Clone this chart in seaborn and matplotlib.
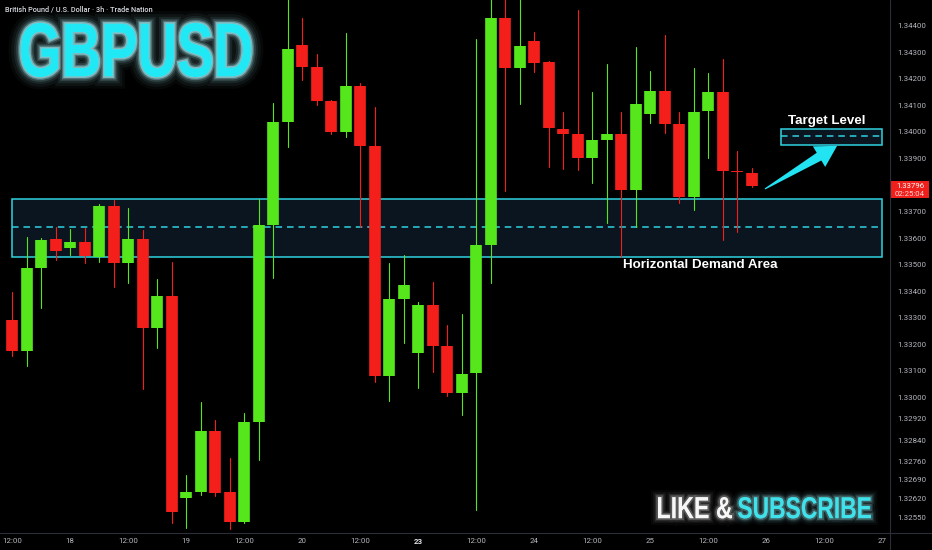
import numpy as np
import pandas as pd
import matplotlib
matplotlib.use("Agg")
import matplotlib.pyplot as plt
import seaborn as sns
from matplotlib.patches import Rectangle, Polygon, PathPatch
from matplotlib.lines import Line2D
from matplotlib.textpath import TextPath
from matplotlib.font_manager import FontProperties
from matplotlib.transforms import Affine2D
import matplotlib.patheffects as pe

# ---------------- data ----------------
candle_idx = list(range(-5, 48))   # 3h candles, 0 = 18th 00:00
opens = [1.32878, 1.33292, 1.33175, 1.33487, 1.33597, 1.33563, 1.33585, 1.33529, 1.33721, 1.33506,
         1.33597, 1.33262, 1.33382, 1.32622, 1.32644, 1.32874, 1.32644, 1.32531, 1.32908, 1.33649,
         1.34037, 1.34327, 1.34244, 1.34116, 1.33999, 1.34172, 1.33947, 1.33081, 1.33371, 1.33167,
         1.33348, 1.33194, 1.33017, 1.33092, 1.33574, 1.34428, 1.34240, 1.34342, 1.34263, 1.34011,
         1.33992, 1.33901, 1.33969, 1.33992, 1.33781, 1.34067, 1.34154, 1.34029, 1.33755, 1.34078,
         1.34150, 1.33852, 1.33845]
highs = [1.33299, 1.33397, 1.33604, 1.33600, 1.33642, 1.33634, 1.33638, 1.33728, 1.33743, 1.33713,
         1.33630, 1.33446, 1.33510, 1.32708, 1.32983, 1.32915, 1.32772, 1.32942, 1.33747, 1.34108,
         1.34504, 1.34428, 1.34293, 1.34120, 1.34372, 1.34184, 1.34093, 1.33506, 1.33536, 1.33359,
         1.33435, 1.33273, 1.33314, 1.34349, 1.34507, 1.34505, 1.34505, 1.34376, 1.34266, 1.34075,
         1.34458, 1.34150, 1.34255, 1.34075, 1.34319, 1.34229, 1.34364, 1.34075, 1.34240, 1.34221,
         1.34274, 1.33928, 1.33864]
lows = [1.32870, 1.33156, 1.33119, 1.33337, 1.33517, 1.33536, 1.33506, 1.33510, 1.33416, 1.33431,
        1.33032, 1.33186, 1.32528, 1.32509, 1.32633, 1.32629, 1.32505, 1.32528, 1.32765, 1.33450,
        1.33943, 1.34195, 1.34101, 1.33992, 1.33980, 1.33642, 1.33058, 1.32987, 1.33205, 1.33036,
        1.33096, 1.33006, 1.32934, 1.32577, 1.33431, 1.33777, 1.34105, 1.34225, 1.33868, 1.33860,
        1.33856, 1.33807, 1.33657, 1.33529, 1.33642, 1.34033, 1.33995, 1.33732, 1.33706, 1.33901,
        1.33593, 1.33623, 1.33792]
closes = [1.33292, 1.33175, 1.33487, 1.33593, 1.33551, 1.33585, 1.33533, 1.33721, 1.33506, 1.33597,
          1.33262, 1.33382, 1.32569, 1.32644, 1.32874, 1.32641, 1.32531, 1.32908, 1.33649, 1.34037,
          1.34312, 1.34244, 1.34116, 1.33999, 1.34172, 1.33947, 1.33081, 1.33371, 1.33423, 1.33348,
          1.33194, 1.33017, 1.33088, 1.33574, 1.34428, 1.34240, 1.34323, 1.34259, 1.34014, 1.33992,
          1.33901, 1.33969, 1.33992, 1.33781, 1.34105, 1.34154, 1.34029, 1.33755, 1.34075, 1.34150,
          1.33852, 1.33849, 1.33796]

x_ticks = [-4, 0, 4, 8, 12, 16, 20, 24, 28, 32, 36, 40, 44, 48, 52, 56]
x_tick_labels = ["12:00", "18", "12:00", "19", "12:00", "20", "12:00", "23",
                 "12:00", "24", "12:00", "25", "12:00", "26", "12:00", "27"]
y_ticks = [1.34400, 1.34300, 1.34200, 1.34100, 1.34000, 1.33900, 1.33700, 1.33600,
           1.33500, 1.33400, 1.33300, 1.33200, 1.33100, 1.33000, 1.32920, 1.32840,
           1.32760, 1.32690, 1.32620, 1.32550]

demand_zone = [1.33529, 1.33747]
demand_mid = 1.33642
demand_span = [-4, 56]
target_zone = [1.33950, 1.34009]
target_mid = 1.33984
target_span = [49, 56]
arrow_tail = [47.93, 1.33785]
arrow_tip = [52.9, 1.33947]
last_price = 1.33796
countdown = "02:25:04"

title_small = "British Pound / U.S. Dollar · 3h · Trade Nation"
symbol = "GBPUSD"

# ---------------- style ----------------
GREEN = "#55e61c"
RED = "#f41f1a"
CYAN = "#2fd3e0"
BG = "#000000"
GRID_LINE = "#2a2e39"
TICK_COL = "#b4b7bf"
W, H = 932, 550

sns.set_theme(style="dark")
plt.rcParams["font.family"] = ["Roboto", "DejaVu Sans"]
plt.rcParams["axes.facecolor"] = BG
plt.rcParams["figure.facecolor"] = BG

fig = plt.figure(figsize=(W / 100, H / 100), dpi=100)
ax = fig.add_axes([0, 17 / H, 890 / W, 533 / H])
ax.set_facecolor(BG)

# ---------------- candles via seaborn ----------------
n = len(candle_idx)
direction = ["up" if c >= o else "down" for o, c in zip(opens, closes)]
body_df = pd.DataFrame({
    "idx": np.repeat(candle_idx, 2),
    "price": np.ravel(np.column_stack([opens, closes])),
    "candle": np.repeat(np.arange(n), 2),
    "dir": np.repeat(direction, 2),
})
wick_df = pd.DataFrame({
    "idx": np.repeat(candle_idx, 2),
    "price": np.ravel(np.column_stack([lows, highs])),
    "candle": np.repeat(np.arange(n), 2),
    "dir": np.repeat(direction, 2),
})
pal = {"up": GREEN, "down": RED}

# zones (behind candles)
ax.add_patch(Rectangle((demand_span[0], demand_zone[0]), demand_span[1] - demand_span[0],
                       demand_zone[1] - demand_zone[0], facecolor="#0b1520",
                       edgecolor=CYAN, lw=1.1, zorder=1))
ax.plot(demand_span, [demand_mid, demand_mid], color=CYAN, lw=1.1, dashes=(4.3, 3.2), zorder=1.5)
ax.add_patch(Rectangle((target_span[0], target_zone[0]), target_span[1] - target_span[0],
                       target_zone[1] - target_zone[0], facecolor="#0b1520",
                       edgecolor=CYAN, lw=1.1, zorder=1))
ax.plot(target_span, [target_mid, target_mid], color=CYAN, lw=1.1, dashes=(4.3, 3.2), zorder=1.5)

sns.lineplot(data=wick_df, x="idx", y="price", units="candle", estimator=None, hue="dir",
             palette=pal, linewidth=0.8, legend=False, ax=ax)
sns.lineplot(data=body_df, x="idx", y="price", units="candle", estimator=None, hue="dir",
             palette=pal, linewidth=8.4, solid_capstyle="butt", legend=False, ax=ax)

ax.set_xlim(-4.83, 56.55)
ax.set_ylim(1.32490, 1.34496)
ax.set_xlabel("")
ax.set_ylabel("")
ax.grid(False)
for s in ax.spines.values():
    s.set_visible(False)

ax.yaxis.tick_right()
ax.set_yticks(y_ticks)
ax.set_yticklabels([f"{v:.5f}" for v in y_ticks])
ax.set_xticks(x_ticks)
ax.set_xticklabels(x_tick_labels)
ax.tick_params(axis="both", length=0, labelsize=5.7, colors=TICK_COL)
ax.tick_params(axis="y", pad=5)
ax.tick_params(axis="x", pad=3.5)
ax.get_xticklabels()[7].set_fontweight("bold")
ax.get_xticklabels()[7].set_color("#e0e2e6")

# separators
fig.add_artist(Line2D([890 / W, 890 / W], [0, 1], transform=fig.transFigure, color=GRID_LINE, lw=0.8))
fig.add_artist(Line2D([0, 1], [17 / H, 17 / H], transform=fig.transFigure, color=GRID_LINE, lw=0.8))

# labels
ax.text(52.17, 1.34042, "Target Level", color="white", fontsize=9.6, fontweight="bold",
        family=["Liberation Sans", "DejaVu Sans"], ha="center", va="center", zorder=6)
ax.text(38.14, 1.33499, "Horizontal Demand Area", color="white", fontsize=9.6, fontweight="bold",
        family=["Liberation Sans", "DejaVu Sans"], ha="left", va="center", zorder=6)

# arrow (tapered, built in display space)
fig.canvas.draw()
p0 = ax.transData.transform(arrow_tail)
p1 = ax.transData.transform(arrow_tip)
d = p1 - p0
L = np.hypot(*d)
u = d / L
nrm = np.array([-u[1], u[0]])
base = p1 - u * 21
pts = [p0 + nrm * 0.6, base + nrm * 4.5, base + nrm * 12, p1,
       base - nrm * 12, base - nrm * 4.5, p0 - nrm * 0.6]
pts_data = ax.transData.inverted().transform(np.array(pts))
ax.add_patch(Polygon(pts_data, closed=True, facecolor="#22e3f2", edgecolor="none", zorder=7))

# last price tag
fig.add_artist(Rectangle((891 / W, 1 - 198 / H), 38 / W, 17 / H, transform=fig.transFigure,
                         facecolor="#ef1f1b", edgecolor="none"))
fig.text(910 / W, 1 - 185.5 / H, f"{last_price:.5f}", color="white", fontsize=5.6,
         ha="center", va="center")
fig.text(910 / W, 1 - 193.5 / H, countdown, color="#ffd6d6", fontsize=5.6,
         ha="center", va="center")

# small header
renderer = fig.canvas.get_renderer()
hdr = fig.text(5 / W, 1 - 10 / H, title_small, color="#d6d8de", fontsize=6, fontweight="medium",
               ha="left", va="center")
bb = hdr.get_window_extent(renderer)
hdr.set_fontsize(6 * 149 / bb.width)


def glow_text(s, x0, y_top, w, h, color, glow, layers):
    fp = FontProperties(family="Liberation Sans", weight="bold")
    tp = TextPath((0, 0), s, size=100, prop=fp)
    ext = tp.get_extents()
    tr = (Affine2D().translate(-ext.x0, -ext.y0).scale(w / ext.width, h / ext.height)
          .translate(x0, H - y_top - h).scale(1 / W, 1 / H) + fig.transFigure)
    patch = PathPatch(tp, facecolor=color, edgecolor="none", transform=tr, zorder=20)
    effects = [pe.Stroke(linewidth=lw, foreground=glow, alpha=a) for lw, a in layers]
    patch.set_path_effects(effects + [pe.Normal()])
    fig.add_artist(patch)


big_glow = [(18, 0.035), (14, 0.05), (10, 0.08), (7, 0.14), (4.5, 0.28), (2.5, 0.5)]
glow_text(symbol, 21, 23, 230, 54, "#20e8f4", "#b0f8ff", big_glow)
small_glow = [(10, 0.035), (7, 0.06), (4.5, 0.12), (2.5, 0.25)]
glow_text("LIKE &", 658, 497, 74, 21.5, "#f7f7f7", "#e0e0e0", small_glow)
glow_text("SUBSCRIBE", 738, 497, 133, 21.5, "#3fe2ea", "#9ff3f7", small_glow)

fig.savefig("out.png", dpi=100, facecolor=BG)
